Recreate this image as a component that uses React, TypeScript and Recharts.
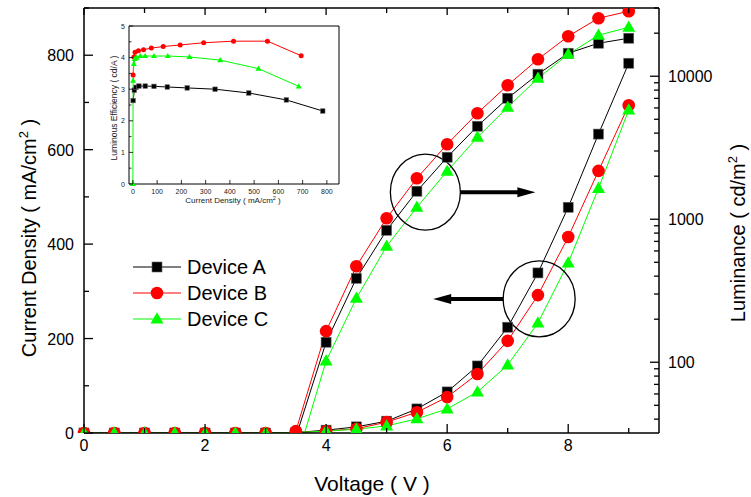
import React from 'react';
import { ComposedChart, LineChart, Line, XAxis, YAxis, Legend, ReferenceDot } from 'recharts';

// main plot: voltage sweep
const voltage = [0, 0.5, 1, 1.5, 2, 2.5, 3, 3.5, 4, 4.5, 5, 5.5, 6, 6.5, 7, 7.5, 8, 8.5, 9];
const currentA = [0, 0, 0, 0, 0, 0, 0, 1, 6, 13, 25, 51, 87, 142, 224, 339, 478, 633, 783];
const currentB = [0, 0, 0, 0, 0, 0, 0, 1, 4, 9, 23, 44, 76, 125, 195, 292, 415, 555, 694];
const currentC = [0, 0, 0, 0, 0, 0, 0, 1, 4, 8, 15, 30, 51, 87, 144, 233, 360, 518, 684];
const lumA = [null, null, null, null, null, null, null, 30, 138, 386, 837, 1570, 2714, 4470, 7015, 10330, 14480, 17010, 18440];
const lumB = [null, null, null, null, null, null, null, 33, 165, 469, 1016, 1935, 3345, 5510, 8650, 13150, 19040, 25440, 28480];
const lumC = [null, null, null, null, null, null, null, 20, 102, 280, 647, 1213, 2166, 3740, 6070, 9680, 14250, 19350, 22010];

// inset: efficiency vs current density
const insetJA = [1, 6, 13, 25, 51, 87, 142, 224, 339, 478, 633, 783];
const insetLEA = [2.64, 2.97, 3.06, 3.1, 3.1, 3.09, 3.07, 3.04, 3.0, 2.88, 2.66, 2.31];
const insetJB = [1, 4, 9, 23, 44, 76, 125, 195, 292, 415, 555, 694];
const insetLEB = [3.45, 4.02, 4.17, 4.22, 4.25, 4.3, 4.35, 4.4, 4.47, 4.52, 4.52, 4.06];
const insetJC = [0, 1, 4, 8, 15, 30, 51, 87, 144, 233, 360, 518, 684];
const insetLEC = [0, 3.27, 3.8, 3.96, 4.0, 4.05, 4.05, 4.05, 4.05, 4.02, 3.92, 3.65, 3.09];

const devices = ['Device A', 'Device B', 'Device C'];
const colors = ['#000000', '#ff0000', '#00ff00'];

const jTicks = [0, 100, 200, 300, 400, 500, 600, 700, 800, 900];
const vTicks = [0, 1, 2, 3, 4, 5, 6, 7, 8, 9];
const lumTicks = [40, 50, 60, 70, 80, 90, 100, 200, 300, 400, 500, 600, 700, 800, 900, 1000, 2000, 3000, 4000, 5000, 6000, 7000, 8000, 9000, 10000, 20000, 30000];
const insetJTicks = [0, 100, 200, 300, 400, 500, 600, 700, 800];
const insetLETicks = [0, 0.5, 1, 1.5, 2, 2.5, 3, 3.5, 4, 4.5, 5];

const mainData = voltage.map((v, i) => ({
  v, jA: currentA[i], jB: currentB[i], jC: currentC[i], lA: lumA[i], lB: lumB[i], lC: lumC[i],
}));
const insetA = insetJA.map((j, i) => ({ j, le: insetLEA[i] }));
const insetB = insetJB.map((j, i) => ({ j, le: insetLEB[i] }));
const insetC = insetJC.map((j, i) => ({ j, le: insetLEC[i] }));

const Marker = ({ kind, cx, cy, s, color }: any) => {
  if (kind === 0)
    return <rect x={cx - s / 2} y={cy - s / 2} width={s} height={s} fill={color} stroke="#666" strokeWidth={0.6} />;
  if (kind === 1) return <circle cx={cx} cy={cy} r={s / 2} fill={color} />;
  const h = s * 0.87;
  return <polygon points={`${cx},${cy - h * 0.6} ${cx - s / 2},${cy + h * 0.4} ${cx + s / 2},${cy + h * 0.4}`} fill={color} />;
};

const dotFor = (kind: number, s: number) => (p: any) => {
  const k = `${kind}-${p.index}`;
  if (typeof p.cx !== 'number' || typeof p.cy !== 'number' || p.value == null) return <g key={k} />;
  return <Marker key={k} kind={kind} cx={p.cx} cy={p.cy} s={s} color={colors[kind]} />;
};

const mainSizes = [10, 12.6, 13];
const insetSizes = [4.5, 5, 6];

// inward ticks for the main frame
const LeftTick = ({ x, y, payload }: any) => {
  const major = payload.value % 200 === 0;
  return (
    <g>
      <line x1={x} x2={x + (major ? 9 : 5)} y1={y} y2={y} stroke="#000" strokeWidth={1.3} />
      {major && payload.value < 900 && (
        <text x={x - 10} y={y} dy={6} textAnchor="end" fontSize={16} fill="#000">{payload.value}</text>
      )}
    </g>
  );
};

const BottomTick = ({ x, y, payload }: any) => {
  const major = payload.value % 2 === 0;
  return (
    <g>
      <line x1={x} x2={x} y1={y} y2={y - (major ? 9 : 5)} stroke="#000" strokeWidth={1.3} />
      {major && (
        <text x={x} y={y + 18} textAnchor="middle" fontSize={16} fill="#000">{payload.value}</text>
      )}
    </g>
  );
};

const TopTick = ({ x, y, payload }: any) => {
  const major = payload.value % 2 === 0;
  return <line x1={x} x2={x} y1={y} y2={y + (major ? 7 : 5)} stroke="#000" strokeWidth={1.3} />;
};

const RightTick = ({ x, y, payload }: any) => {
  const v = payload.value;
  const major = v === 100 || v === 1000 || v === 10000;
  return (
    <g>
      <line x1={x} x2={x - (major ? 9 : 5)} y1={y} y2={y} stroke="#000" strokeWidth={1.3} />
      {major && (
        <text x={x + 9} y={y} dy={6} textAnchor="start" fontSize={16} fill="#000">{v}</text>
      )}
    </g>
  );
};

// inset ticks
const InsetLeftTick = ({ x, y, payload }: any) => {
  const major = payload.value % 1 === 0;
  return (
    <g>
      <line x1={x} x2={x + (major ? 4 : 2.5)} y1={y} y2={y} stroke="#000" strokeWidth={0.8} />
      {major && (
        <text x={x - 4} y={y} dy={2.5} textAnchor="end" fontSize={7} fill="#222">{payload.value}</text>
      )}
    </g>
  );
};

const InsetRightTick = ({ x, y, payload }: any) => {
  const major = payload.value % 1 === 0;
  return <line x1={x} x2={x - (major ? 4 : 2.5)} y1={y} y2={y} stroke="#000" strokeWidth={0.8} />;
};

const InsetBottomTick = ({ x, y, payload }: any) => (
  <g>
    <line x1={x} x2={x} y1={y} y2={y - 4} stroke="#000" strokeWidth={0.8} />
    <text x={x} y={y + 9.5} textAnchor="middle" fontSize={7} fill="#222">{payload.value}</text>
  </g>
);

// annotation circles with arrows
const CircleArrowRight = ({ cx, cy }: any) => (
  <g>
    <ellipse cx={cx} cy={cy} rx={35} ry={38} fill="none" stroke="#000" strokeWidth={1.3} />
    <line x1={cx + 35} x2={cx + 95} y1={cy} y2={cy} stroke="#000" strokeWidth={4} />
    <polygon points={`${cx + 92},${cy - 5} ${cx + 110},${cy} ${cx + 92},${cy + 5}`} fill="#000" />
  </g>
);

const CircleArrowLeft = ({ cx, cy }: any) => (
  <g>
    <ellipse cx={cx} cy={cy} rx={36} ry={38} fill="none" stroke="#000" strokeWidth={1.3} />
    <line x1={cx - 36} x2={cx - 90} y1={cy} y2={cy} stroke="#000" strokeWidth={4} />
    <polygon points={`${cx - 88},${cy - 5} ${cx - 106},${cy} ${cx - 88},${cy + 5}`} fill="#000" />
  </g>
);

const LegendBox = () => (
  <div style={{ display: 'flex', flexDirection: 'column' }}>
    {devices.map((d, i) => (
      <div key={d} style={{ display: 'flex', alignItems: 'center', height: 26 }}>
        <svg width={48} height={20}>
          <line x1={0} x2={48} y1={10} y2={10} stroke={colors[i]} strokeWidth={1} />
          <Marker kind={i} cx={24} cy={10} s={mainSizes[i]} color={colors[i]} />
        </svg>
        <span style={{ fontSize: 20, marginLeft: 6, color: '#000' }}>{d}</span>
      </div>
    ))}
  </div>
);

const axisStroke = { stroke: '#000', strokeWidth: 1.5 };

export default function App() {
  return (
    <div
      style={{
        position: 'absolute', left: 0, top: 0, width: 751, height: 497, background: '#fff',
        fontFamily: '"Liberation Sans", Arial, sans-serif',
      }}
    >
      <ComposedChart width={751} height={497} data={mainData} margin={{ top: 0, right: 0, bottom: 0, left: 0 }}>
        <XAxis xAxisId="bottom" dataKey="v" type="number" domain={[0, 9.5]} ticks={vTicks} interval={0}
          height={64} tickSize={0} tickMargin={0} axisLine={axisStroke} tick={<BottomTick />} />
        <XAxis xAxisId="top" orientation="top" dataKey="v" type="number" domain={[0, 9.5]} ticks={vTicks} interval={0}
          height={8} tickSize={0} tickMargin={0} axisLine={axisStroke} tick={<TopTick />} />
        <YAxis yAxisId="J" domain={[0, 900]} allowDataOverflow ticks={jTicks} interval={0} width={84}
          tickSize={0} tickMargin={0} axisLine={axisStroke} tick={<LeftTick />} />
        <YAxis yAxisId="L" orientation="right" scale="log" type="number" domain={[32, 30000]} allowDataOverflow
          ticks={lumTicks} interval={0} width={92} tickSize={0} tickMargin={0} axisLine={axisStroke} tick={<RightTick />} />
        <Legend layout="vertical" align="center" verticalAlign="middle" content={<LegendBox />}
          wrapperStyle={{ left: 133, top: 254, width: 'auto', height: 'auto' }} />

        <Line xAxisId="bottom" yAxisId="J" dataKey="jA" stroke={colors[0]} strokeWidth={1} dot={dotFor(0, mainSizes[0])} isAnimationActive={false} />
        <Line xAxisId="bottom" yAxisId="J" dataKey="jB" stroke={colors[1]} strokeWidth={1} dot={dotFor(1, mainSizes[1])} isAnimationActive={false} />
        <Line xAxisId="bottom" yAxisId="J" dataKey="jC" stroke={colors[2]} strokeWidth={1} dot={dotFor(2, mainSizes[2])} isAnimationActive={false} />
        <Line xAxisId="bottom" yAxisId="L" dataKey="lA" stroke={colors[0]} strokeWidth={1} dot={dotFor(0, mainSizes[0])} isAnimationActive={false} />
        <Line xAxisId="bottom" yAxisId="L" dataKey="lB" stroke={colors[1]} strokeWidth={1} dot={dotFor(1, mainSizes[1])} isAnimationActive={false} />
        <Line xAxisId="bottom" yAxisId="L" dataKey="lC" stroke={colors[2]} strokeWidth={1} dot={dotFor(2, mainSizes[2])} isAnimationActive={false} />

        <ReferenceDot xAxisId="bottom" yAxisId="J" x={5.64} y={510} shape={<CircleArrowRight />} />
        <ReferenceDot xAxisId="bottom" yAxisId="J" x={7.52} y={284} shape={<CircleArrowLeft />} />
      </ComposedChart>

      <div style={{ position: 'absolute', left: 95, top: 18 }}>
        <LineChart width={255} height={192} margin={{ top: 0, right: 0, bottom: 0, left: 0 }}>
          <XAxis xAxisId="b" dataKey="j" type="number" domain={[-16, 850]} ticks={insetJTicks} interval={0}
            height={26} tickSize={0} tickMargin={0} axisLine={{ stroke: '#000', strokeWidth: 1 }} tick={<InsetBottomTick />} />
          <XAxis xAxisId="t" orientation="top" dataKey="j" type="number" domain={[-16, 850]} ticks={insetJTicks}
            height={8} tickLine={false} tick={false} axisLine={{ stroke: '#000', strokeWidth: 1 }} />
          <YAxis yAxisId="l" domain={[0, 5]} ticks={insetLETicks} interval={0} width={34} tickSize={0} tickMargin={0}
            axisLine={{ stroke: '#000', strokeWidth: 1 }} tick={<InsetLeftTick />} />
          <YAxis yAxisId="r" orientation="right" domain={[0, 5]} ticks={insetLETicks} interval={0} width={11}
            tickSize={0} tickMargin={0} axisLine={{ stroke: '#000', strokeWidth: 1 }} tick={<InsetRightTick />} />
          <Line xAxisId="b" yAxisId="l" data={insetA} dataKey="le" stroke={colors[0]} strokeWidth={1} dot={dotFor(0, insetSizes[0])} isAnimationActive={false} />
          <Line xAxisId="b" yAxisId="l" data={insetB} dataKey="le" stroke={colors[1]} strokeWidth={1} dot={dotFor(1, insetSizes[1])} isAnimationActive={false} />
          <Line xAxisId="b" yAxisId="l" data={insetC} dataKey="le" stroke={colors[2]} strokeWidth={1} dot={dotFor(2, insetSizes[2])} isAnimationActive={false} />
        </LineChart>
      </div>

      <svg width={751} height={497} style={{ position: 'absolute', left: 0, top: 0, pointerEvents: 'none' }}>
        <text x={36} y={238} transform="rotate(-90, 36, 238)" textAnchor="middle" fontSize={20} fill="#000">
          Current Density ( mA/cm<tspan dy={-8} fontSize={13}>2</tspan><tspan dy={8}> )</tspan>
        </text>
        <text x={745} y={233} transform="rotate(-90, 745, 233)" textAnchor="middle" fontSize={20} fill="#000">
          Luminance ( cd/m<tspan dy={-8} fontSize={13}>2</tspan><tspan dy={8}> )</tspan>
        </text>
        <text x={372} y={491} textAnchor="middle" fontSize={21} fill="#000">Voltage ( V )</text>
        <text x={117} y={108} transform="rotate(-90, 117, 108)" textAnchor="middle" fontSize={8.5} fill="#222">
          Luminous Efficiency ( cd/A )
        </text>
        <text x={233} y={203} textAnchor="middle" fontSize={8} fill="#222">
          Current Density ( mA/cm<tspan dy={-3} fontSize={5.5}>2</tspan><tspan dy={3}> )</tspan>
        </text>
      </svg>
    </div>
  );
}
